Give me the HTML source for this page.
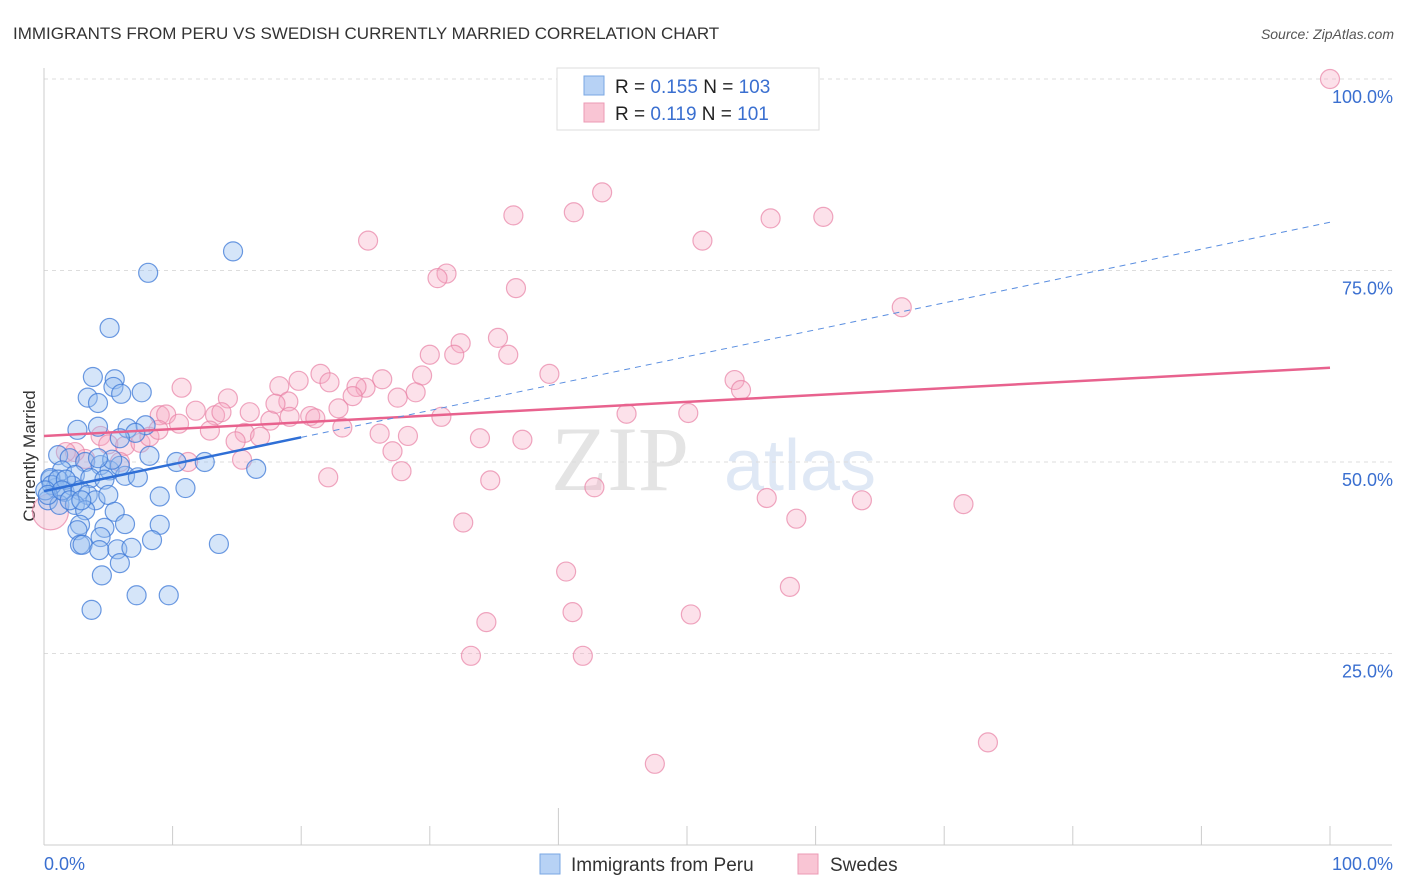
<!DOCTYPE html>
<html><head><meta charset="utf-8"><style>
body{margin:0;background:#fff;font-family:"Liberation Sans",sans-serif;}
svg{display:block}
</style></head><body>
<svg id="chart" width="1406" height="892">
<text x="13" y="39" font-size="17" fill="#333">IMMIGRANTS FROM PERU VS SWEDISH CURRENTLY MARRIED CORRELATION CHART</text>
<text x="1394" y="39" font-size="14" fill="#555" font-style="italic" text-anchor="end">Source: ZipAtlas.com</text>
<text x="35" y="456" font-size="17" fill="#333" text-anchor="middle" transform="rotate(-90 35 456)">Currently Married</text>
<text x="620" y="490" font-size="92" fill="#e4e4e4" font-family="Liberation Serif,serif" text-anchor="middle">ZIP</text>
<text x="800" y="490" font-size="72" fill="#dfe8f5" text-anchor="middle">atlas</text>
<g id="grid"></g>
<g id="axes"></g>
<g id="pinkPts"></g>
<g id="bluePts"></g>
<g id="lines"></g>
<g>
<rect x="557" y="68" width="262" height="62" fill="#fff" stroke="#ddd"/>
<rect x="584" y="76" width="20" height="19" fill="#b7d2f5" stroke="#7aa7e3"/>
<rect x="584" y="103" width="20" height="19" fill="#f9c5d4" stroke="#ec9ab4"/>
<text x="615" y="93" font-size="19" fill="#222">R = <tspan fill="#3a6fd0">0.155</tspan>   N = <tspan fill="#3a6fd0">103</tspan></text>
<text x="615" y="120" font-size="19" fill="#222">R =  <tspan fill="#3a6fd0">0.119</tspan>   N =  <tspan fill="#3a6fd0">101</tspan></text>
</g>
<g>
<rect x="540" y="854" width="20" height="20" fill="#b7d2f5" stroke="#7aa7e3"/>
<text x="571" y="871" font-size="19" fill="#333">Immigrants from Peru</text>
<rect x="798" y="854" width="20" height="20" fill="#f9c5d4" stroke="#ec9ab4"/>
<text x="830" y="871" font-size="19" fill="#333">Swedes</text>
</g>
</svg>
<script>
const yTicks=[25,50,75,100];
const yTickLabels=["25.0%","50.0%","75.0%","100.0%"];
const xTickLabels=["0.0%","100.0%"];
const blueX=[14.7,8.1,5.1,3.8,5.5,5.4,7.6,6.0,3.4,4.2,2.6,6.5,7.9,7.1,4.2,5.9,8.2,10.3,12.5,16.5,1.1,2.0,3.2,4.4,5.1,1.4,2.4,3.6,4.7,6.3,7.3,0.5,0.9,1.6,2.2,2.8,3.4,4.0,5.0,0.3,1.2,2.4,3.2,5.5,9.0,11.0,2.8,2.6,4.7,6.3,9.0,4.4,2.8,3.0,4.3,5.7,6.8,8.4,13.6,5.9,4.5,7.2,9.7,3.7,0.5,0.6,1.1,1.7,0.1,0.3,1.4,2.0,2.9,5.9,5.3,4.2];
const blueY=[77.5,74.7,67.5,61.1,60.8,59.8,59.1,58.9,58.4,57.7,54.2,54.4,54.8,53.8,54.6,53.1,50.8,50.0,50.0,49.1,50.9,50.5,50.0,49.6,48.9,48.9,48.3,47.9,47.7,48.2,48.0,47.7,46.6,46.1,46.9,46.3,45.7,45.0,45.7,45.0,44.4,44.4,43.7,43.5,45.5,46.6,41.8,41.1,41.4,41.9,41.8,40.2,39.2,39.2,38.5,38.6,38.8,39.8,39.3,36.8,35.2,32.6,32.6,30.7,47.9,47.0,47.7,47.7,46.3,45.7,46.3,45.0,45.0,49.5,50.3,50.5];
const pinkX=[100,43.4,41.2,36.5,56.5,60.6,25.2,51.2,31.3,30.6,36.7,66.7,35.3,32.4,30.0,31.9,36.1,21.5,39.3,53.7,10.7,29.4,19.8,26.3,18.3,22.2,25.0,24.3,54.2,14.3,19.0,28.9,27.5,9.0,9.5,11.8,13.3,13.8,16.0,17.6,18.0,19.1,20.7,21.1,22.9,24.0,10.5,12.9,4.4,5.0,6.3,7.5,8.2,8.9,15.6,16.8,23.2,26.1,28.3,30.9,33.9,37.2,45.3,50.1,27.1,14.9,11.2,15.4,5.9,3.2,2.4,1.7,22.1,27.8,34.7,42.8,56.2,63.6,71.5,58.5,32.6,40.6,58.0,41.1,50.3,34.4,33.2,41.9,47.5,73.4,0.5];
const pinkY=[100,85.2,82.6,82.2,81.8,82.0,78.9,78.9,74.6,74.0,72.7,70.2,66.2,65.5,64.0,64.0,64.0,61.5,61.5,60.7,59.7,61.3,60.6,60.8,59.9,60.4,59.7,59.8,59.4,58.3,57.9,59.1,58.4,56.1,56.2,56.7,56.1,56.5,56.5,55.4,57.6,55.9,56.0,55.7,57.0,58.6,55.0,54.1,53.4,52.3,52.1,52.5,53.3,54.2,53.8,53.3,54.5,53.7,53.4,55.9,53.1,52.9,56.3,56.4,51.4,52.7,50.0,50.3,50.0,50.4,51.3,51.3,48.0,48.8,47.6,46.7,45.3,45.0,44.5,42.6,42.1,35.7,33.7,30.4,30.1,29.1,24.7,24.7,10.6,13.4,43.5];
const blueFit=[46.2,81.3];
const pinkFit=[53.4,62.3];
const X=v=>44+v*12.86, Y=v=>845-v*7.66;
const NS="http://www.w3.org/2000/svg";
function mk(tag,attrs,parent){const e=document.createElementNS(NS,tag);for(const k in attrs)e.setAttribute(k,attrs[k]);parent.appendChild(e);return e;}
const grid=document.getElementById('grid');
yTicks.forEach((t,i)=>{
  const l=mk('line',{x1:44,x2:1392,y1:Y(t),y2:Y(t),stroke:'#ddd','stroke-dasharray':'4,4'},grid);
  
  
  const tx=mk('text',{x:1393,y:Y(t)+24,'font-size':18,fill:'#3a6fd0','text-anchor':'end'},grid);
  tx.textContent=yTickLabels[i];
  
  
});
const ax=document.getElementById('axes');
const la=mk('line',{x1:44,x2:44,y1:68,y2:845,stroke:'#ccc'},ax);


const ba=mk('line',{x1:44,x2:1392,y1:845,y2:845,stroke:'#ccc'},ax);


for(let i=1;i<=10;i++){
  const t=mk('line',{x1:X(i*10),x2:X(i*10),y1:i==4?808:826,y2:845,stroke:'#ccc'},ax);
  
  
}
[[0,'start'],[100,'end']].forEach((p,i)=>{
  const t=mk('text',{x:i?1393:44,y:870,'font-size':18,fill:'#3a6fd0','text-anchor':p[1]},ax);
  t.textContent=xTickLabels[i];
  
  
});
const pg=document.getElementById('pinkPts');
pinkX.forEach((x,i)=>{
  const c=mk('circle',{cx:X(x),cy:Y(pinkY[i]),r:i==pinkX.length-1?18:9.5,fill:'rgba(245,170,195,0.35)',stroke:'rgba(232,130,165,0.7)','stroke-width':1.2},pg);
  
  
});
const bg=document.getElementById('bluePts');
blueX.forEach((x,i)=>{
  const c=mk('circle',{cx:X(x),cy:Y(blueY[i]),r:9.5,fill:'rgba(150,190,240,0.4)',stroke:'rgba(60,120,215,0.75)','stroke-width':1.2},bg);
  
  
});
const lg=document.getElementById('lines');
const bAt=v=>blueFit[0]+(blueFit[1]-blueFit[0])*v/100;
const pl=mk('line',{x1:X(0),y1:Y(pinkFit[0]),x2:X(100),y2:Y(pinkFit[1]),stroke:'#e8628e','stroke-width':2.5},lg);


const bl=mk('line',{x1:X(0),y1:Y(bAt(0)),x2:X(20),y2:Y(bAt(20)),stroke:'#2f6fd6','stroke-width':2.5},lg);


const bd=mk('line',{x1:X(20),y1:Y(bAt(20)),x2:X(100),y2:Y(bAt(100)),stroke:'#5a8ee0','stroke-width':1,'stroke-dasharray':'6,5'},lg);


</script>
</body></html>
